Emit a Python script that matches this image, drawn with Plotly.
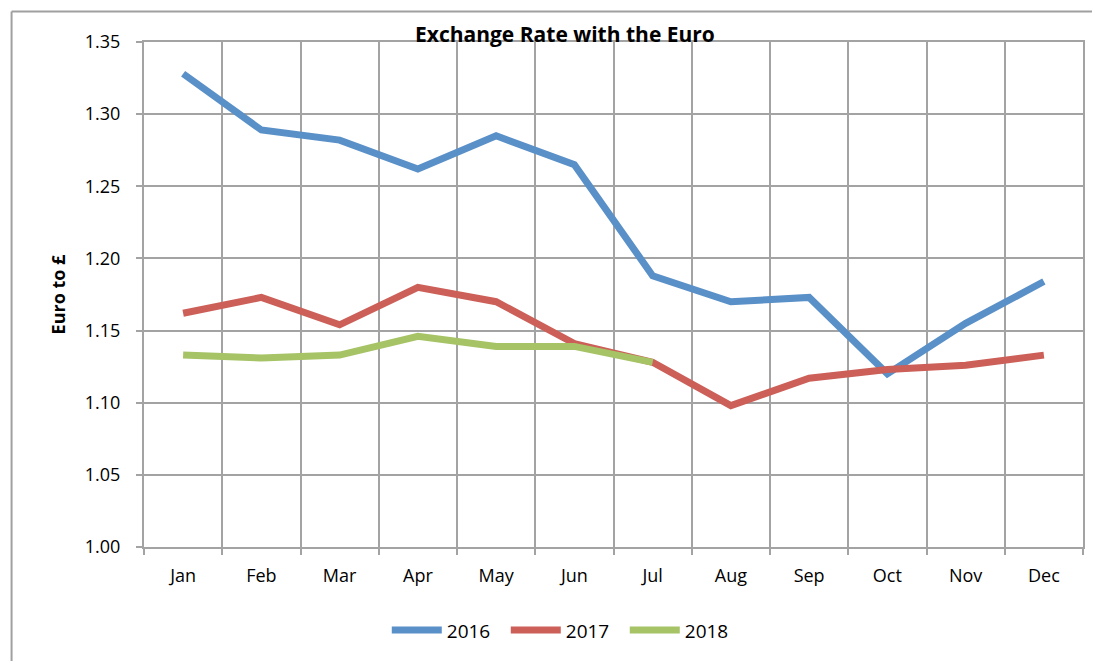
import plotly.graph_objects as go

months = ["Jan", "Feb", "Mar", "Apr", "May", "Jun", "Jul", "Aug", "Sep", "Oct", "Nov", "Dec"]
rates_2016 = [1.328, 1.289, 1.282, 1.262, 1.285, 1.265, 1.188, 1.170, 1.173, 1.120, 1.155, 1.184]
rates_2017 = [1.162, 1.173, 1.154, 1.180, 1.170, 1.141, 1.128, 1.098, 1.117, 1.123, 1.126, 1.133]
rates_2018 = [1.133, 1.131, 1.133, 1.146, 1.139, 1.139, 1.128]

series = [
    ("2016", rates_2016, "#5A90C8"),
    ("2017", rates_2017, "#CC5F58"),
    ("2018", rates_2018, "#A6C366"),
]

FONT = "Open Sans"
GRID = "#A3A3A3"

fig = go.Figure()
for name, vals, color in series:
    fig.add_trace(go.Scatter(
        x=months[:len(vals)], y=vals, name=name, mode="lines",
        line=dict(color=color, width=7),
    ))

OFF = 8  # default body margin of the page
W, H = 1100 - OFF, 661 - OFF
L, R, T, B = 143.5 - OFF, 17, 41.5 - OFF, H + OFF - 546.7
pw = W - L - R
ph = H - T - B

def px_x(p):
    return (p - OFF - L) / pw

def px_y(p):
    return (H + OFF - B - p) / ph

fig.update_layout(
    width=W, height=H,
    margin=dict(l=L, r=R, t=T, b=B, autoexpand=False),
    paper_bgcolor="white", plot_bgcolor="white",
    font=dict(family=FONT, size=18, color="black"),
    showlegend=True,
    legend=dict(orientation="h", x=px_x(565), xanchor="center", y=px_y(630), yanchor="middle",
                font=dict(family=FONT, size=19, color="black"),
                itemwidth=50, entrywidth=54, tracegroupgap=0, bgcolor="rgba(0,0,0,0)"),
    xaxis=dict(
        type="category", range=[-0.5, 11.5], tickson="boundaries",
        showgrid=True, gridcolor=GRID, gridwidth=2,
        ticks="outside", ticklen=6, tickcolor=GRID, tickwidth=2,
        showline=True, linecolor=GRID, linewidth=2, mirror=True,
        tickfont=dict(family=FONT, size=18), ticklabelstandoff=11,
    ),
    yaxis=dict(
        range=[1.0, 1.35], dtick=0.05, tick0=1.0, tickformat=".2f",
        showgrid=True, gridcolor=GRID, gridwidth=2,
        ticks="outside", ticklen=6, tickcolor=GRID, tickwidth=2,
        showline=True, linecolor=GRID, linewidth=2, mirror=True,
        zeroline=False,
        tickfont=dict(family=FONT, size=18), ticklabelstandoff=12,
        title=dict(text="<b>Euro to £</b>", font=dict(family=FONT, size=18), standoff=14),
    ),
)

fig.add_annotation(text="<b>Exchange Rate with the Euro</b>", xref="paper", yref="paper",
                   x=px_x(565), y=px_y(33), xanchor="center", yanchor="middle",
                   showarrow=False, font=dict(family=FONT, size=21, color="black"))

# outer chart-area border (top and left edges visible)
fig.add_shape(type="line", xref="paper", yref="paper",
              x0=px_x(11), x1=px_x(1110), y0=px_y(11), y1=px_y(11),
              line=dict(color="#A0A0A0", width=2))
fig.add_shape(type="line", xref="paper", yref="paper",
              x0=px_x(11), x1=px_x(11), y0=px_y(11), y1=px_y(670),
              line=dict(color="#A0A0A0", width=2))

fig.write_html("out.html")
